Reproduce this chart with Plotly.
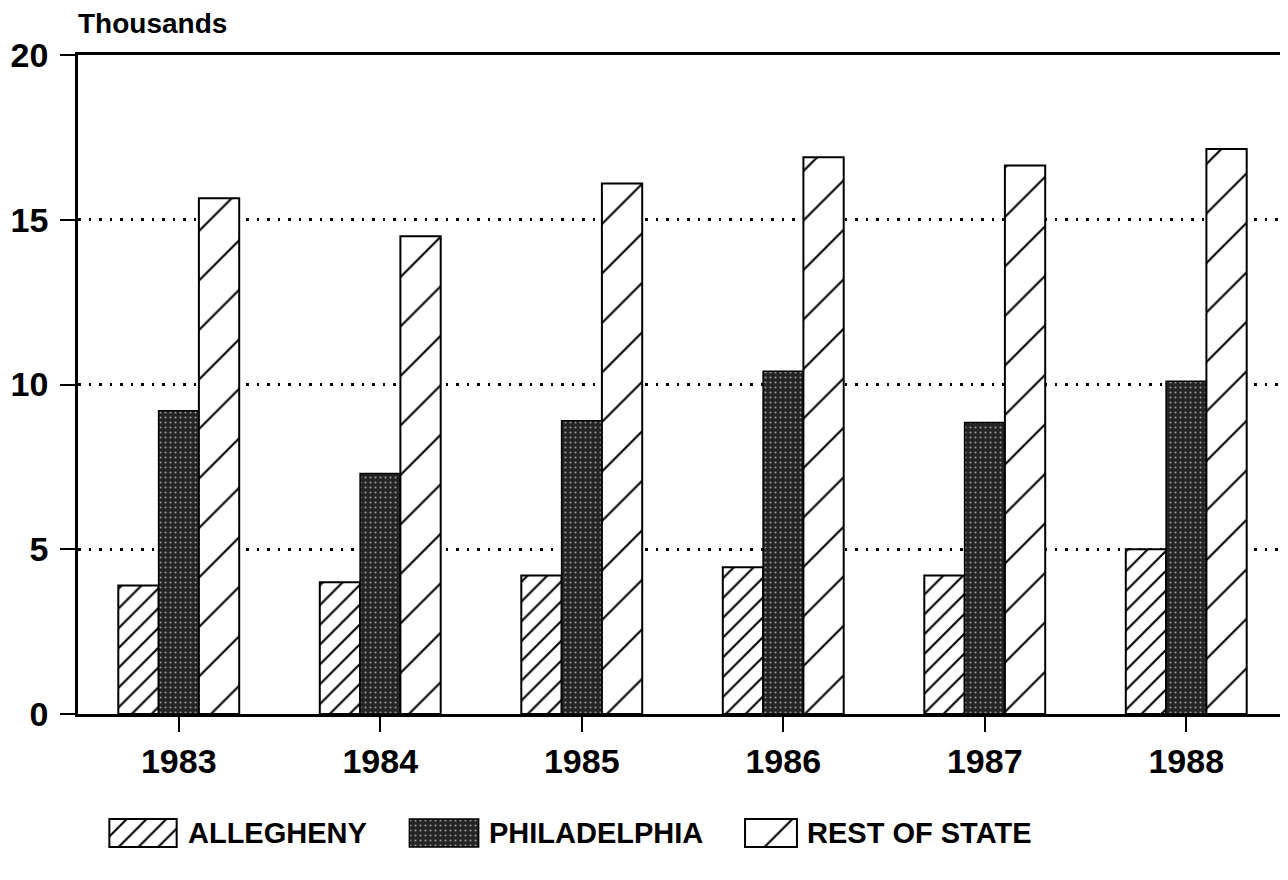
import plotly.graph_objects as go

# ---------------- data ----------------
years = ["1983", "1984", "1985", "1986", "1987", "1988"]
allegheny = [3.9, 4.0, 4.2, 4.45, 4.2, 5.0]
philadelphia = [9.2, 7.3, 8.9, 10.4, 8.85, 10.1]
rest_of_state = [15.65, 14.5, 16.1, 16.9, 16.65, 17.15]
series_names = ["ALLEGHENY", "PHILADELPHIA", "REST OF STATE"]
y_ticks = [0, 5, 10, 15, 20]
y_unit = "Thousands"

# ---------------- layout helpers ----------------
W, H = 1288, 880
PAGE_OFF = 8  # default body margin of the html page


def fx(px):
    return (px - PAGE_OFF) / W


def fy(py):
    return 1 - (py - PAGE_OFF) / H


FONT = "Liberation Sans, Arial, Helvetica, sans-serif"

styles = {
    "ALLEGHENY": dict(
        color="white",
        line=dict(color="black", width=2),
        pattern=dict(shape="/", fgcolor="black", bgcolor="white", size=14, solidity=0.15),
    ),
    "PHILADELPHIA": dict(
        color="#262626",
        line=dict(color="black", width=1.5),
        pattern=dict(shape=".", fgcolor="#9a9a9a", bgcolor="#242424", size=5, solidity=0.14),
    ),
    "REST OF STATE": dict(
        color="white",
        line=dict(color="black", width=2),
        pattern=dict(shape="/", fgcolor="black", bgcolor="white", size=35, solidity=0.06),
    ),
}

values = {"ALLEGHENY": allegheny, "PHILADELPHIA": philadelphia, "REST OF STATE": rest_of_state}

fig = go.Figure()
for name in series_names:
    fig.add_trace(go.Bar(x=years, y=values[name], name=name, marker=styles[name],
                         showlegend=False, xaxis="x", yaxis="y"))

# legend swatches drawn as bars in small auxiliary subplots
swatch_px = {"ALLEGHENY": (108, 178), "PHILADELPHIA": (408, 480), "REST OF STATE": (744, 798)}
text_px = {"ALLEGHENY": 186, "PHILADELPHIA": 487, "REST OF STATE": 805}
legend_y_px = (818, 848)

for i, name in enumerate(series_names):
    ax = "x%d" % (i + 2)
    fig.add_trace(go.Bar(x=[0], y=[1], width=[1], marker=styles[name], showlegend=False,
                         xaxis=ax, yaxis="y2", hoverinfo="skip"))
    a0, a1 = swatch_px[name]
    fig.update_layout(**{
        "xaxis%d" % (i + 2): dict(domain=[fx(a0), fx(a1)], range=[-0.52, 0.52], visible=False,
                                  anchor="y2", fixedrange=True)
    })
    fig.add_annotation(text=name, xref="paper", yref="paper", x=fx(text_px[name]),
                       y=fy(sum(legend_y_px) / 2), xanchor="left", yanchor="middle",
                       showarrow=False, font=dict(family=FONT, size=29, color="black", weight="bold"))

fig.add_annotation(text=y_unit, xref="paper", yref="paper", x=fx(76), y=fy(23),
                   xanchor="left", yanchor="middle", showarrow=False,
                   font=dict(family=FONT, size=28, color="black", weight="bold"))

fig.update_layout(
    template="none",
    width=W, height=H,
    margin=dict(l=0, r=0, t=0, b=0),
    paper_bgcolor="white", plot_bgcolor="white",
    barmode="group", bargap=0.4, bargroupgap=0,
    showlegend=False,
    xaxis=dict(
        domain=[fx(78), fx(1287)], anchor="y", type="category",
        range=[-0.5, 5.5],
        showline=True, linecolor="black", linewidth=2.5, mirror=True,
        ticks="outside", ticklen=15, tickwidth=2, tickcolor="black",
        ticklabelstandoff=0,
        tickfont=dict(family=FONT, size=34, color="black", weight="bold"),
        showgrid=False, zeroline=False, automargin=False, fixedrange=True,
    ),
    yaxis=dict(
        domain=[fy(714), fy(55)], anchor="x", range=[0, 20],
        tickvals=y_ticks, ticktext=[str(v) for v in y_ticks],
        showline=True, linecolor="black", linewidth=2.5, mirror=True,
        ticks="outside", ticklen=15, tickwidth=2, tickcolor="black",
        ticklabelstandoff=5,
        tickfont=dict(family=FONT, size=34, color="black", weight="bold"),
        showgrid=True, gridcolor="black", gridwidth=2.5, griddash="2.5px,8px",
        zeroline=False, automargin=False, fixedrange=True,
    ),
    yaxis2=dict(domain=[fy(legend_y_px[1]), fy(legend_y_px[0])], range=[-0.04, 1.04],
                visible=False, anchor="x2", fixedrange=True),
)

fig.write_html("out.html")
